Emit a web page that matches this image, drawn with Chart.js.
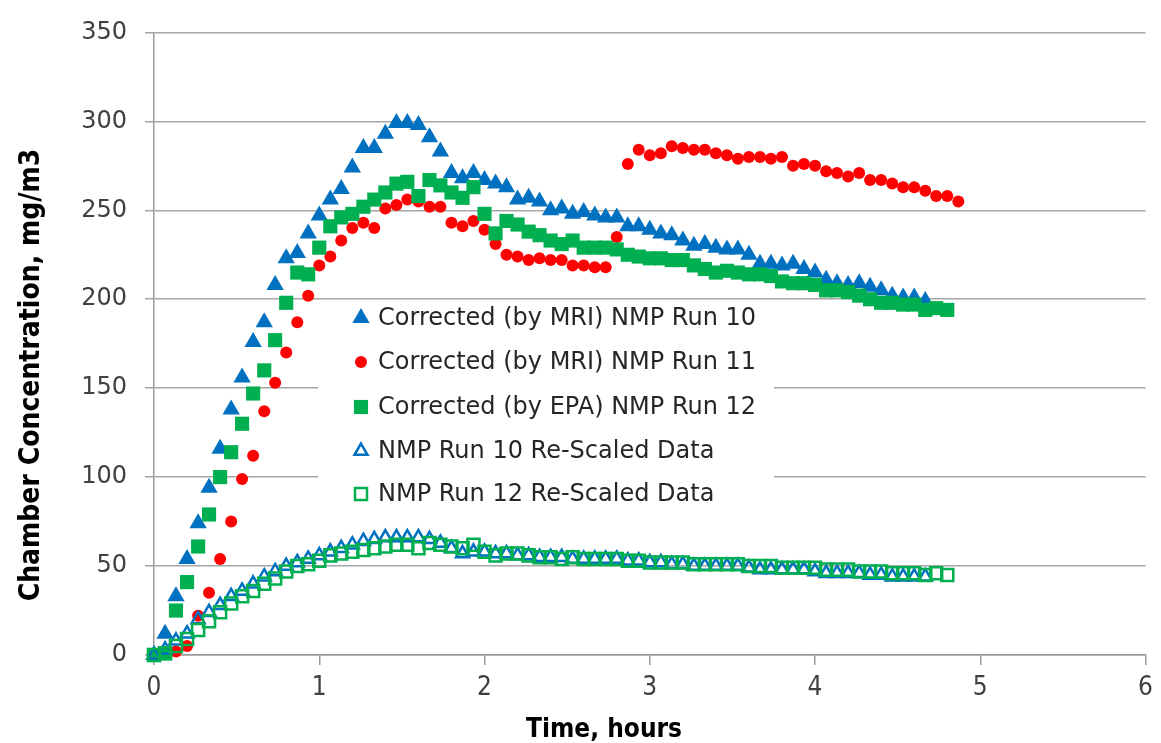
<!DOCTYPE html>
<html>
<head>
<meta charset="utf-8">
<script src="https://cdn.jsdelivr.net/npm/chart.js@4.4.0/dist/chart.umd.min.js"></script>
<style>
  html, body { margin: 0; padding: 0; background: #fff; }
</style>
</head>
<body>
<canvas id="chamberChart" width="1161" height="743"></canvas>
<script>
// sampling times, hours (one reading every 4 min)
const timeHours = [
  0, 0.067, 0.133, 0.2, 0.267, 0.333, 0.4, 0.467, 0.533, 0.6,
  0.667, 0.733, 0.8, 0.867, 0.933, 1.0, 1.067, 1.133, 1.2, 1.267,
  1.333, 1.4, 1.467, 1.533, 1.6, 1.667, 1.733, 1.8, 1.867, 1.933,
  2.0, 2.067, 2.133, 2.2, 2.267, 2.333, 2.4, 2.467, 2.533, 2.6,
  2.667, 2.733, 2.8, 2.867, 2.933, 3.0, 3.067, 3.133, 3.2, 3.267,
  3.333, 3.4, 3.467, 3.533, 3.6, 3.667, 3.733, 3.8, 3.867, 3.933,
  4.0, 4.067, 4.133, 4.2, 4.267, 4.333, 4.4, 4.467, 4.533, 4.6,
  4.667, 4.733, 4.8, 4.867
];

// mg/m3
const run10Corrected = [
  0, 12, 33, 54, 74, 94, 116, 138, 156, 176,
  187, 208, 223, 226, 237, 247, 256, 262, 274, 285,
  285, 293, 299, 299, 298, 291, 283, 271, 268, 271,
  267, 265, 263, 256, 257, 255, 250, 251, 248, 249,
  247, 246, 246, 241, 241, 239, 237, 236, 233, 230,
  231, 229, 228, 228, 225, 220, 220, 219, 220, 217,
  215, 211, 209, 208, 209, 207, 205, 202, 201, 201,
  199
];
const run11Corrected = [
  0, 1, 2, 5, 22, 35, 54, 75, 99, 112,
  137, 153, 170, 187, 202, 219, 224, 233, 240, 243,
  240, 251, 253, 256, 255, 252, 252, 243, 241, 244,
  239, 231, 225, 224, 222, 223, 222, 222, 219, 219,
  218, 218, 235, 276, 284, 281, 282, 286, 285, 284,
  284, 282, 281, 279, 280, 280, 279, 280, 275, 276,
  275, 272, 271, 269, 271, 267, 267, 265, 263, 263,
  261, 258, 258, 255
];
const run12Corrected = [
  0, 1, 25, 41, 61, 79, 100, 114, 130, 147,
  160, 177, 198, 215, 214, 229, 241, 246, 248, 252,
  256, 260, 265, 266, 258, 267, 264, 260, 257, 263,
  248, 237, 244, 242, 238, 236, 233, 231, 233, 229,
  229, 229, 228, 225, 224, 223, 223, 222, 222, 219,
  217, 215, 216, 215, 214, 214, 213, 210, 209, 209,
  208, 205, 205, 204, 202, 200, 198, 198, 197, 197,
  194, 195, 194
];
const run10Rescaled = [
  0, 3, 8, 12, 20, 24, 28, 33, 36, 40,
  44, 47, 50, 52, 54, 56, 58, 60, 62, 64,
  65, 66, 66, 66, 66, 65, 63, 60, 57, 58,
  58, 57, 57, 56, 56, 55, 55, 55, 54, 54,
  54, 54, 54, 53, 53, 52, 52, 51, 51, 50,
  50, 50, 50, 50, 49, 48, 48, 48, 48, 48,
  47, 46, 46, 46, 46, 45, 45, 44, 44, 44,
  44
];
const run12Rescaled = [
  0, 1, 5, 9, 14, 19, 24, 29, 33, 36,
  40, 43, 47, 50, 51, 53, 56, 57, 58, 59,
  60, 61, 62, 62, 60, 63, 62, 61, 60, 62,
  58, 56, 57, 57, 56, 55, 55, 54, 55, 54,
  54, 54, 54, 53, 53, 52, 52, 52, 52, 51,
  51, 51, 51, 51, 50, 50, 50, 49, 49, 49,
  49, 48, 48, 48, 47, 47, 47, 46, 46, 46,
  45, 46, 45
];

const seriesLabels = [
  'Corrected (by MRI) NMP Run 10',
  'Corrected (by MRI) NMP Run 11',
  'Corrected (by EPA) NMP Run 12',
  'NMP Run 10 Re-Scaled Data',
  'NMP Run 12 Re-Scaled Data'
];
const xTicks = [0, 1, 2, 3, 4, 5, 6];
const yTicks = [0, 50, 100, 150, 200, 250, 300, 350];

const BLUE = '#0070C0';
const RED = '#FF0000';
const GREEN = '#00B050';

function toPoints(vals) {
  return vals.map((v, i) => ({ x: timeHours[i], y: v }));
}

const datasets = [
  { label: seriesLabels[0], data: toPoints(run10Corrected), pointStyle: 'triangle', pointRadius: 10,
    backgroundColor: BLUE, borderColor: BLUE, borderWidth: 0, order: 5 },
  { label: seriesLabels[1], data: toPoints(run11Corrected), pointStyle: 'circle', pointRadius: 6,
    backgroundColor: RED, borderColor: RED, borderWidth: 0, order: 4 },
  { label: seriesLabels[2], data: toPoints(run12Corrected), pointStyle: 'rect', pointRadius: 10,
    backgroundColor: GREEN, borderColor: GREEN, borderWidth: 0, order: 3 },
  { label: seriesLabels[3], data: toPoints(run10Rescaled), pointStyle: 'triangle', pointRadius: 7.5,
    backgroundColor: 'rgba(0,0,0,0)', borderColor: BLUE, borderWidth: 2.5, order: 2 },
  { label: seriesLabels[4], data: toPoints(run12Rescaled), pointStyle: 'rect', pointRadius: 8.5,
    backgroundColor: 'rgba(0,0,0,0)', borderColor: GREEN, borderWidth: 2.5, order: 1 }
];
datasets.forEach(ds => {
  ds.showLine = false;
  ds.clip = false;
  ds.pointHoverRadius = ds.pointRadius;
  ds.pointBorderWidth = ds.borderWidth;
});

// axis titles + the in-plot legend box
const overlayPlugin = {
  id: 'overlay',
  afterDraw(chart) {
    const ctx = chart.ctx;
    ctx.save();

    // legend
    ctx.fillStyle = '#fff';
    ctx.fillRect(318, 300, 456, 214);
    const rowY = [318, 362, 407, 451, 494];
    ctx.font = '24px "DejaVu Sans"';
    ctx.textBaseline = 'middle';
    datasets.forEach((ds, i) => {
      ctx.fillStyle = ds.backgroundColor;
      ctx.strokeStyle = ds.borderColor;
      ctx.lineWidth = ds.borderWidth;
      Chart.helpers.drawPoint(ctx, {
        pointStyle: ds.pointStyle, radius: ds.pointRadius, rotation: 0, borderWidth: ds.borderWidth
      }, 361, rowY[i]);
      ctx.fillStyle = '#262626';
      ctx.fillText(ds.label, 378, rowY[i] + 1);
    });

    // axis titles
    ctx.fillStyle = '#000';
    ctx.textAlign = 'center';
    ctx.font = 'bold 26px "DejaVu Sans Condensed", "DejaVu Sans"';
    ctx.fillText('Time, hours', 604, 730);
    ctx.font = 'bold 28px "DejaVu Sans Condensed", "DejaVu Sans"';
    ctx.translate(32, 375);
    ctx.rotate(-Math.PI / 2);
    ctx.fillText('Chamber Concentration, mg/m3', 0, 0);
    ctx.restore();
  }
};

new Chart(document.getElementById('chamberChart'), {
  type: 'scatter',
  data: { datasets },
  options: {
    responsive: false,
    animation: false,
    devicePixelRatio: 1,
    layout: { padding: { top: 28, right: 11, bottom: 0, left: 0 } },
    plugins: { legend: { display: false }, tooltip: { enabled: false } },
    scales: {
      x: {
        type: 'linear', min: xTicks[0], max: xTicks[xTicks.length - 1],
        afterFit(scale) { scale.height = 88; },
        afterBuildTicks(scale) { scale.ticks = xTicks.map(v => ({ value: v })); },
        ticks: { color: '#404040', padding: 8, font: { family: '"DejaVu Sans Condensed", "DejaVu Sans"', size: 26 } },
        grid: { drawOnChartArea: false, drawTicks: true, tickLength: 10, color: '#999', lineWidth: 1.5 },
        border: { display: true, color: '#999', width: 1.5 }
      },
      y: {
        type: 'linear', min: yTicks[0], max: yTicks[yTicks.length - 1],
        afterFit(scale) { scale.width = 154; },
        afterBuildTicks(scale) { scale.ticks = yTicks.map(v => ({ value: v })); },
        ticks: { color: '#404040', padding: 18, font: { family: '"DejaVu Sans"', size: 24 } },
        grid: { color: '#a6a6a6', lineWidth: 1.5, tickLength: 9 },
        border: { display: true, color: '#999', width: 1.5 }
      }
    }
  },
  plugins: [overlayPlugin]
});
</script>
</body>
</html>
